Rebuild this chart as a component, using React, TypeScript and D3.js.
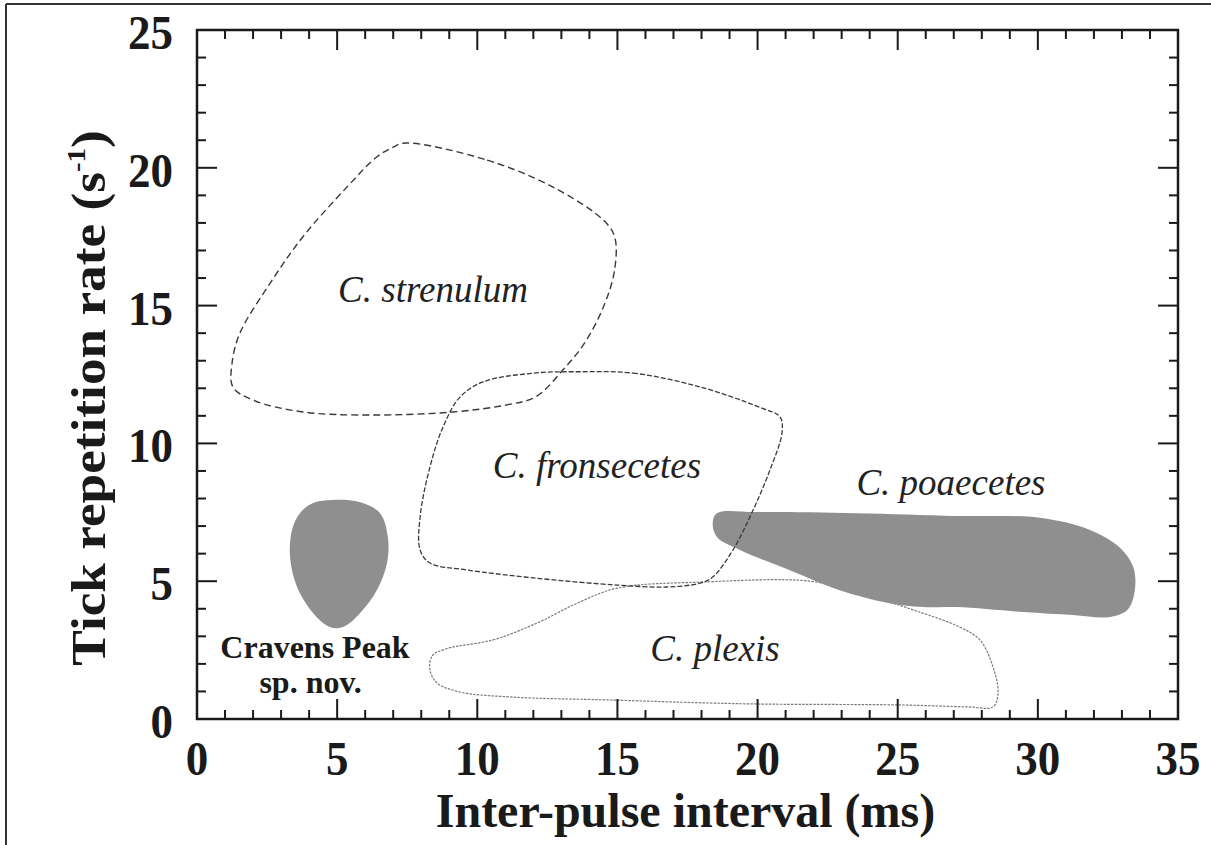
import React from "react";
import * as d3 from "d3";

type Pt = [number, number];

// Tick values
const xMajorTicks = [0, 5, 10, 15, 20, 25, 30, 35];
const yMajorTicks = [0, 5, 10, 15, 20, 25];
const xMinorTicks = d3.range(1, 35).filter((v) => v % 5 !== 0);
const yMinorTicks = d3.range(1, 25).filter((v) => v % 5 !== 0);

// Region outlines (inter-pulse interval ms, tick rate s^-1)
const strenulum: Pt[] = [
  [7.42, 20.9], [10.35, 20.28], [12.7, 19.3], [14.5, 18.1], [14.9, 17.5], [14.9, 16.3],
  [14.5, 14.95], [13.8, 13.6], [13.05, 12.66], [12.1, 11.7], [11.06, 11.4], [9.13, 11.14],
  [6.17, 11.03], [3.78, 11.14], [2.0, 11.57], [1.28, 12.05], [1.25, 12.9], [1.53, 14.0],
  [2.6, 15.8], [3.78, 17.5], [5.35, 19.3], [6.42, 20.4], [7.0, 20.75],
];

const fronsecetes: Pt[] = [
  [13.66, 12.6], [15.56, 12.55], [17.95, 12.05], [20.1, 11.3], [20.8, 10.96], [20.87, 10.38],
  [20.44, 9.03], [19.84, 7.58], [19.12, 6.13], [18.4, 5.15], [17.95, 4.93], [16.77, 4.79],
  [14.98, 4.86], [12.0, 5.12], [9.63, 5.41], [8.31, 5.66], [7.96, 6.13], [7.96, 7.33],
  [8.31, 9.14], [8.78, 10.6], [9.38, 11.68], [10.2, 12.23], [12.0, 12.55],
];

const plexis: Pt[] = [
  [8.9, 2.55], [10.56, 2.87], [12.13, 3.48], [13.56, 4.2], [15.0, 4.75], [18.05, 4.97],
  [21.87, 5.0], [23.7, 4.55], [25.55, 3.96], [27.2, 3.34], [27.93, 2.87], [28.4, 1.89],
  [28.58, 0.94], [28.4, 0.44], [27.5, 0.44], [25.1, 0.51], [20.3, 0.54], [18.3, 0.58],
  [14.73, 0.69], [11.17, 0.8], [9.38, 0.98], [8.56, 1.31], [8.31, 1.8], [8.4, 2.3],
];

const poaecetes: Pt[] = [
  [18.55, 7.47], [19.98, 7.51], [23.5, 7.47], [27.1, 7.37], [30.07, 7.3], [31.86, 6.86],
  [32.9, 6.24], [33.4, 5.52], [33.46, 4.68], [33.2, 3.96], [32.57, 3.7], [31.25, 3.77],
  [29.47, 3.88], [27.1, 4.06], [25.9, 4.06], [24.7, 4.2], [22.9, 4.68], [21.15, 5.4],
  [19.37, 6.13], [18.55, 6.6], [18.4, 7.1],
];

const cravensPeak: Pt[] = [
  [4.85, 7.95], [5.8, 7.87], [6.53, 7.47], [6.81, 6.6], [6.78, 5.66], [6.42, 4.68],
  [5.82, 3.85], [5.21, 3.34], [4.74, 3.34], [4.14, 3.85], [3.57, 4.79], [3.32, 5.88],
  [3.39, 6.86], [3.67, 7.47], [4.14, 7.84],
];

// Species labels (anchor in data coordinates)
const italicLabels: { text: string; at: Pt }[] = [
  { text: "C. strenulum", at: [8.42, 15.13] },
  { text: "C. fronsecetes", at: [14.27, 8.74] },
  { text: "C. plexis", at: [18.48, 2.1] },
  { text: "C. poaecetes", at: [26.9, 8.13] },
];
const boldLabels: { text: string; at: Pt }[] = [
  { text: "Cravens Peak", at: [4.21, 2.21] },
  { text: "sp. nov.", at: [4.05, 0.94] },
];

const W = 1211;
const H = 845;
const L = 197, R = 1178, T = 30, B = 719;

export default function App() {
  const x = d3.scaleLinear().domain([0, 35]).range([L, R]);
  const y = d3.scaleLinear().domain([0, 25]).range([B, T]);
  const shape = d3
    .line<Pt>()
    .x((d) => x(d[0]))
    .y((d) => y(d[1]))
    .curve(d3.curveCatmullRomClosed.alpha(0.5));

  const serif = "'Liberation Serif', 'Times New Roman', serif";
  const axisColor = "#1a1a1a";
  const minorLen = 9;
  const majorLen = 20;

  return (
    <svg
      width={W}
      height={H}
      style={{ position: "absolute", left: 0, top: 0, background: "#fff" }}
    >
      <rect x={0} y={0} width={W} height={H} fill="#fff" />
      {/* outer frame */}
      <line x1={6} y1={4} x2={W} y2={4} stroke="#333" strokeWidth={2} />
      <line x1={6} y1={4} x2={6} y2={H} stroke="#333" strokeWidth={2} />

      {/* regions */}
      <path d={shape(plexis) || ""} fill="none" stroke="#7a7a7a" strokeWidth={1.2} strokeDasharray="2.5,1.2" />
      <path d={shape(poaecetes) || ""} fill="#8f8f8f" stroke="none" />
      <path d={shape(cravensPeak) || ""} fill="#8f8f8f" stroke="none" />
      <path d={shape(fronsecetes) || ""} fill="none" stroke="#3a3a3a" strokeWidth={1.3} strokeDasharray="5,2" />
      <path d={shape(strenulum) || ""} fill="none" stroke="#3a3a3a" strokeWidth={1.4} strokeDasharray="7,4" />

      {/* labels */}
      {italicLabels.map((l) => (
        <text
          key={l.text}
          x={x(l.at[0])}
          y={y(l.at[1])}
          textAnchor="middle"
          fontFamily={serif}
          fontStyle="italic"
          fontSize={37}
          fill="#222"
        >
          {l.text}
        </text>
      ))}
      {boldLabels.map((l) => (
        <text
          key={l.text}
          x={x(l.at[0])}
          y={y(l.at[1])}
          textAnchor="middle"
          fontFamily={serif}
          fontWeight="bold"
          fontSize={32}
          fill="#1a1a1a"
        >
          {l.text}
        </text>
      ))}

      {/* axes box */}
      <rect x={L} y={T} width={R - L} height={B - T} fill="none" stroke={axisColor} strokeWidth={2.5} />
      {xMinorTicks.map((v) => (
        <g key={"xm" + v}>
          <line x1={x(v)} x2={x(v)} y1={B} y2={B - minorLen} stroke={axisColor} strokeWidth={2} />
          <line x1={x(v)} x2={x(v)} y1={T} y2={T + minorLen} stroke={axisColor} strokeWidth={2} />
        </g>
      ))}
      {xMajorTicks.slice(1, -1).map((v) => (
        <g key={"xM" + v}>
          <line x1={x(v)} x2={x(v)} y1={B} y2={B - majorLen} stroke={axisColor} strokeWidth={2} />
          <line x1={x(v)} x2={x(v)} y1={T} y2={T + majorLen} stroke={axisColor} strokeWidth={2} />
        </g>
      ))}
      {yMinorTicks.map((v) => (
        <g key={"ym" + v}>
          <line x1={L} x2={L + minorLen} y1={y(v)} y2={y(v)} stroke={axisColor} strokeWidth={2} />
          <line x1={R} x2={R - minorLen} y1={y(v)} y2={y(v)} stroke={axisColor} strokeWidth={2} />
        </g>
      ))}
      {yMajorTicks.slice(1, -1).map((v) => (
        <g key={"yM" + v}>
          <line x1={L} x2={L + majorLen} y1={y(v)} y2={y(v)} stroke={axisColor} strokeWidth={2} />
          <line x1={R} x2={R - majorLen} y1={y(v)} y2={y(v)} stroke={axisColor} strokeWidth={2} />
        </g>
      ))}

      {/* tick labels */}
      {xMajorTicks.map((v) => (
        <text
          key={"xl" + v}
          transform={`translate(${x(v)}, 775) scale(1, 1.08)`}
          textAnchor="middle"
          fontFamily={serif}
          fontWeight="bold"
          fontSize={45}
          fill="#1a1a1a"
        >
          {v}
        </text>
      ))}
      {yMajorTicks.map((v) => (
        <text
          key={"yl" + v}
          transform={`translate(173, ${y(v) + 19}) scale(1, 1.08)`}
          textAnchor="end"
          fontFamily={serif}
          fontWeight="bold"
          fontSize={45}
          fill="#1a1a1a"
        >
          {v}
        </text>
      ))}

      {/* axis titles */}
      <text
        x={(L + R) / 2 - 2}
        y={827}
        textAnchor="middle"
        fontFamily={serif}
        fontWeight="bold"
        fontSize={48}
        fill="#1a1a1a"
      >
        Inter-pulse interval (ms)
      </text>
      <text
        transform={`translate(105, 398) rotate(-90) scale(1.11, 1)`}
        textAnchor="middle"
        fontFamily={serif}
        fontWeight="bold"
        fontSize={48}
        fill="#1a1a1a"
      >
        Tick repetition rate (s
        <tspan fontSize={26} dy={-20}>-1</tspan>
        <tspan dy={20}>)</tspan>
      </text>
    </svg>
  );
}
